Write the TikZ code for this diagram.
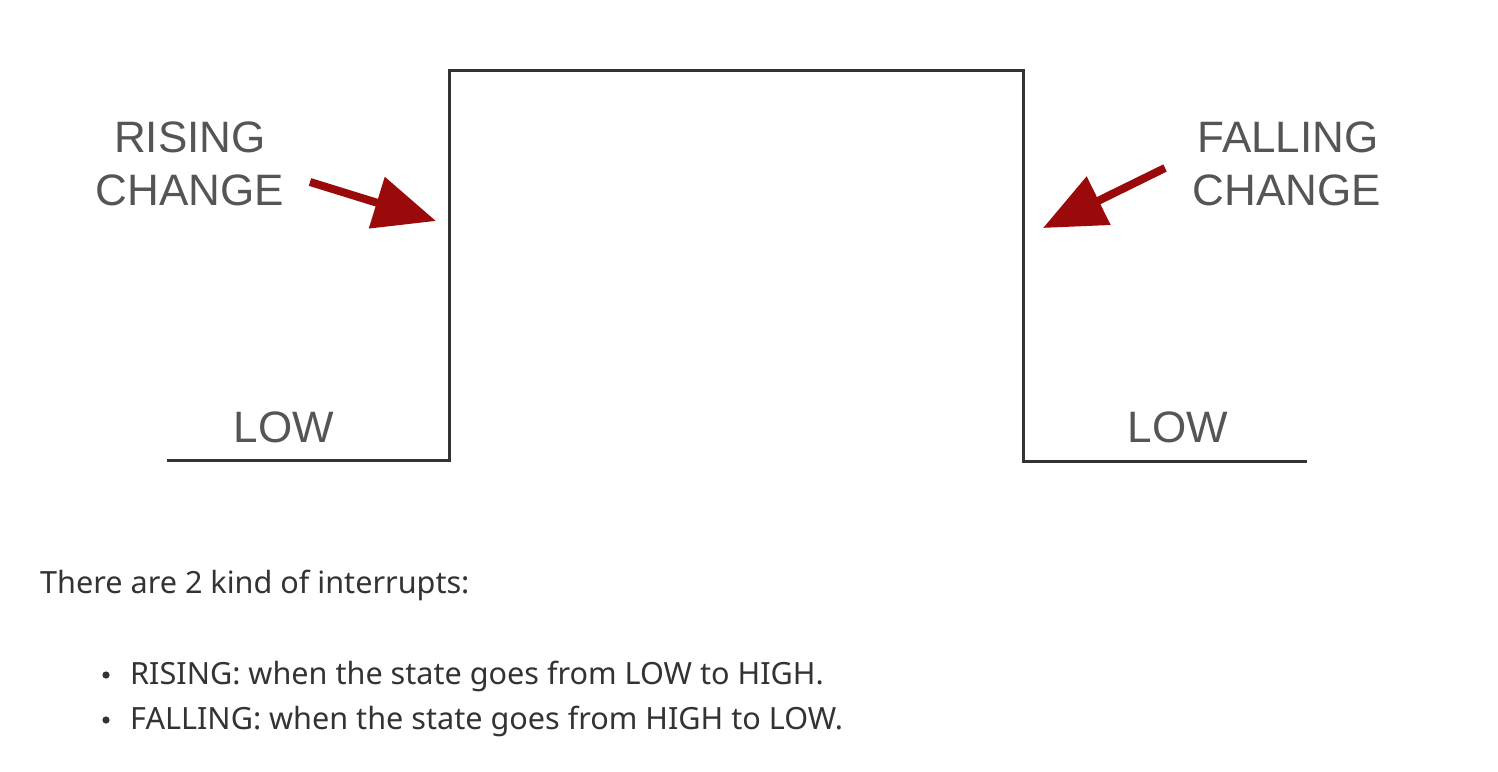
\documentclass[tikz,border=0pt]{standalone}
\usepackage{fontspec}
\setmainfont{Liberation Sans}
\newfontfamily\bodyfont{Noto Sans}
\usetikzlibrary{arrows.meta}
\definecolor{wave}{HTML}{333333}
\definecolor{lbl}{HTML}{555555}
\definecolor{arr}{HTML}{9A0A0A}
\definecolor{body}{HTML}{333333}
\begin{document}
\begin{tikzpicture}[x=1pt,y=-1pt,
  wavestyle/.style={draw=wave,line width=3pt,line join=miter},
  label/.style={text=lbl,font=\fontsize{44}{50}\selectfont,inner sep=0pt,anchor=base},
  bodytext/.style={text=body,font=\bodyfont\fontsize{30.6}{34}\selectfont,inner sep=0pt,anchor=base west},
  redarrow/.style={draw=arr,line width=8pt,-{Triangle[length=62pt,width=52pt,fill=arr]}}]
\useasboundingbox[fill=white] (0,0) rectangle (1498,771);
\coordinate (w0) at (167,460);
\coordinate (w1) at (449,460);
\coordinate (w2) at (449,70);
\coordinate (w3) at (1023,70);
\coordinate (w4) at (1023,461);
\coordinate (w5) at (1307,461);
\draw[wavestyle] (w0) -- (w1) -- (w2) -- (w3) -- (w4) -- (w5);
\node[label] (r1) at (190,152) {RISING};
\node[label] (r2) at (190,205) {CHANGE};
\node[label] (f1) at (1288,152) {FALLING};
\node[label] (f2) at (1287,205) {CHANGE};
\node[label] (l1) at (284,442) {LOW};
\node[label] (l2) at (1178,442) {LOW};
\coordinate (ra0) at (310,182);
\coordinate (ra1) at (436,221);
\coordinate (fa0) at (1165,168);
\coordinate (fa1) at (1043,228);
\draw[redarrow] (ra0) -- (ra1);
\draw[redarrow] (fa0) -- (fa1);
\node[bodytext] (t0) at (40,593) {There are 2 kind of interrupts:};
\node[bodytext] (b1) at (130,684) {RISING: when the state goes from LOW to HIGH.};
\node[bodytext] (b2) at (130,729) {FALLING: when the state goes from HIGH to LOW.};
\fill[body] (106,675) circle (3.6pt);
\fill[body] (106,720) circle (3.6pt);
\end{tikzpicture}
\end{document}
